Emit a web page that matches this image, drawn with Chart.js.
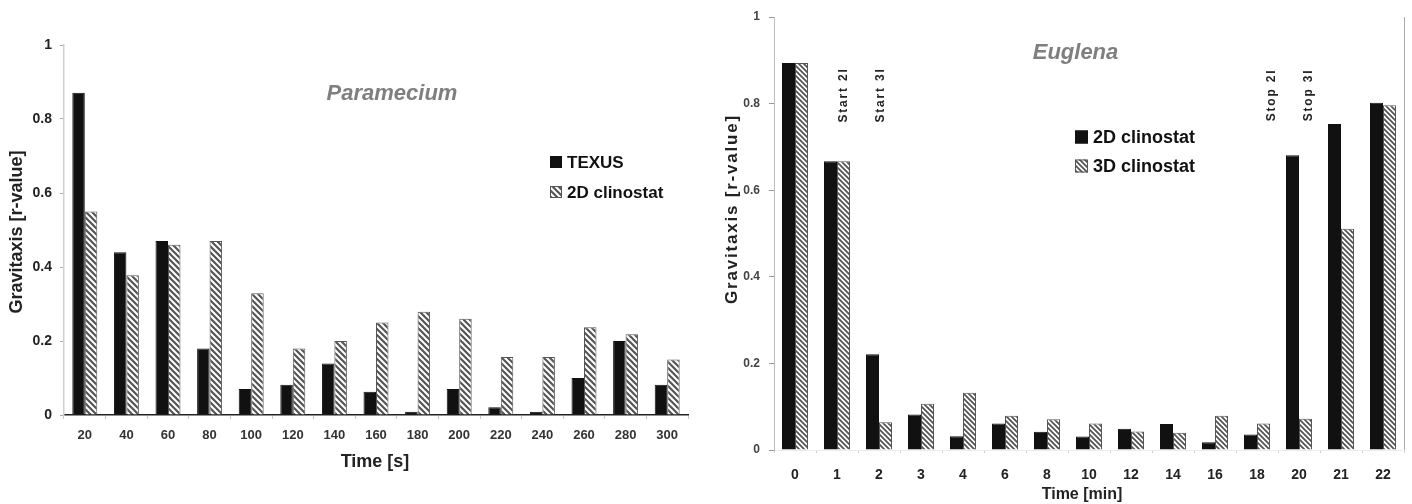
<!DOCTYPE html>
<html><head><meta charset="utf-8">
<script src="https://cdn.jsdelivr.net/npm/chart.js@4.4.1/dist/chart.umd.min.js"></script>
<style>
html,body{margin:0;padding:0;background:#fff;width:1412px;height:504px;overflow:hidden;}
#c1{position:absolute;left:0;top:0;}
#c2{position:absolute;left:700px;top:0;}
</style></head><body>
<canvas id="c1" width="700" height="504"></canvas>
<canvas id="c2" width="712" height="504"></canvas>
<script>
// ---- data ----
const parameciumTimes = ['20','40','60','80','100','120','140','160','180','200','220','240','260','280','300'];
const texusValues = [0.871,0.44,0.47,0.18,0.07,0.082,0.139,0.063,0.009,0.07,0.021,0.009,0.10,0.20,0.082];
const clino2DParamecium = [0.55,0.378,0.46,0.47,0.329,0.18,0.20,0.25,0.279,0.26,0.157,0.157,0.237,0.218,0.15];

const euglenaTimes = ['0','1','2','3','4','6','8','10','12','14','16','18','20','21','22'];
const clino2DEuglena = [0.894,0.667,0.221,0.082,0.032,0.061,0.042,0.031,0.049,0.06,0.018,0.036,0.681,0.753,0.802];
const clino3DEuglena = [0.894,0.667,0.064,0.107,0.132,0.079,0.071,0.061,0.043,0.04,0.079,0.061,0.072,0.511,0.796];

const yTickValues = [0,0.2,0.4,0.6,0.8,1];
const eventLabels = ['Start 2I','Start 3I','Stop 2I','Stop 3I'];
const eventIndex = [1.16,2.04,11.35,12.23];
const eventLevel = 0.82;

const FONT = '"Liberation Sans", Arial, sans-serif';

function hatch(ctx, size, lw, color) {
  const c = document.createElement('canvas'); c.width = size; c.height = size;
  const g = c.getContext('2d');
  g.fillStyle = '#fff'; g.fillRect(0,0,size,size);
  g.strokeStyle = color; g.lineWidth = lw;
  g.beginPath();
  g.moveTo(-1,-1); g.lineTo(size+1,size+1);
  g.moveTo(-1,size-1); g.lineTo(1,size+1);
  g.moveTo(size-1,-1); g.lineTo(size+1,1);
  g.stroke();
  return ctx.createPattern(c,'repeat');
}

const decor = {
  id: 'decor',
  afterDraw(chart, args, o) {
    const ctx = chart.ctx;
    const ca = chart.chartArea;
    ctx.save();
    if (o.rightBorder) {
      ctx.strokeStyle = o.rightBorder; ctx.lineWidth = 1;
      ctx.beginPath(); ctx.moveTo(ca.right+0.5, ca.top); ctx.lineTo(ca.right+0.5, ca.bottom); ctx.stroke();
    }
    (o.texts || []).forEach(t => {
      ctx.save();
      ctx.font = t.font; ctx.fillStyle = t.color || '#222';
      ctx.textAlign = t.align || 'center'; ctx.textBaseline = 'middle';
      ctx.letterSpacing = t.spacing || '0px';
      ctx.translate(t.x, t.y); if (t.rot) ctx.rotate(t.rot);
      ctx.fillText(t.text, 0, 0);
      ctx.restore();
    });
    if (o.legend) {
      const L = o.legend;
      chart.data.datasets.forEach((ds, i) => {
        const cy = L.y[i];
        ctx.fillStyle = ds.backgroundColor;
        ctx.fillRect(L.x, cy - L.box/2, L.box, L.box);
        ctx.strokeStyle = ds.borderColor; ctx.lineWidth = 1;
        ctx.strokeRect(L.x+0.5, cy - L.box/2 + 0.5, L.box-1, L.box-1);
        ctx.font = L.font; ctx.fillStyle = '#111'; ctx.textAlign = 'left'; ctx.textBaseline = 'middle';
        ctx.fillText(ds.label, L.x + L.box + L.gap, cy + 1);
      });
    }
    if (o.events) {
      const xs = chart.scales.x, ys = chart.scales.y;
      eventLabels.forEach((lab, i) => {
        ctx.save();
        ctx.font = o.events.font; ctx.fillStyle = '#222';
        ctx.textAlign = 'center'; ctx.textBaseline = 'middle';
        ctx.letterSpacing = o.events.spacing;
        ctx.translate(xs.getPixelForValue(eventIndex[i]), ys.getPixelForValue(eventLevel));
        ctx.rotate(-Math.PI/2);
        ctx.fillText(lab, 0, 0);
        ctx.restore();
      });
    }
    ctx.restore();
  }
};

function yLabel(v) { return v === 0 ? '0' : (v === 1 ? '1' : v.toFixed(1)); }

// ---- left chart: Paramecium ----
const ctx1 = document.getElementById('c1').getContext('2d');
new Chart(ctx1, {
  type: 'bar',
  data: {
    labels: parameciumTimes,
    datasets: [
      { label: 'TEXUS', data: texusValues, backgroundColor: '#111', borderColor: '#111', borderWidth: 1 },
      { label: '2D clinostat', data: clino2DParamecium, backgroundColor: hatch(ctx1, 6, 2.2, '#555'), borderColor: '#555', borderWidth: 1 }
    ]
  },
  options: {
    responsive: false, animation: false, devicePixelRatio: 1,
    layout: { padding: { top: 45, right: 12, left: 0, bottom: 0 } },
    datasets: { bar: { categoryPercentage: 0.6, barPercentage: 1.0 } },
    plugins: {
      legend: { display: false }, tooltip: { enabled: false },
      decor: {
        texts: [
          { text: 'Paramecium', x: 392, y: 94, font: 'italic bold 22px ' + FONT, color: '#7f7f7f' },
          { text: 'Gravitaxis [r-value]', x: 17, y: 232, rot: -Math.PI/2, font: 'bold 18px ' + FONT, color: '#222' },
          { text: 'Time [s]', x: 375, y: 462, font: 'bold 18px ' + FONT, color: '#222' }
        ],
        legend: { x: 550, y: [162, 192], box: 12, gap: 5, font: 'bold 17px ' + FONT }
      }
    },
    scales: {
      x: {
        afterFit: s => { s.height = 89; },
        grid: { drawOnChartArea: false, drawTicks: true, tickLength: 4, color: '#c8c8c8', offset: true },
        border: { color: '#222', width: 1.5 },
        ticks: { autoSkip: false, maxRotation: 0, padding: 9, color: '#333', font: { family: FONT, size: 13, weight: 'bold' } }
      },
      y: {
        min: 0, max: 1,
        afterFit: s => { s.width = 64; },
        afterBuildTicks: s => { s.ticks = yTickValues.map(v => ({ value: v })); },
        grid: { drawOnChartArea: false, drawTicks: true, tickLength: 4, color: '#aaa' },
        border: { color: '#cfcfcf', width: 1.5 },
        ticks: { padding: 8, color: '#222', font: { family: FONT, size: 14, weight: 'bold' }, callback: v => yLabel(v) }
      }
    }
  },
  plugins: [decor]
});

// ---- right chart: Euglena ----
const ctx2 = document.getElementById('c2').getContext('2d');
new Chart(ctx2, {
  type: 'bar',
  data: {
    labels: euglenaTimes,
    datasets: [
      { label: '2D clinostat', data: clino2DEuglena, backgroundColor: '#111', borderColor: '#111', borderWidth: 1 },
      { label: '3D clinostat', data: clino3DEuglena, backgroundColor: hatch(ctx2, 5, 1.8, '#555'), borderColor: '#555', borderWidth: 1 }
    ]
  },
  options: {
    responsive: false, animation: false, devicePixelRatio: 1,
    layout: { padding: { top: 17, right: 8, left: 0, bottom: 0 } },
    datasets: { bar: { categoryPercentage: 0.62, barPercentage: 1.0 } },
    plugins: {
      legend: { display: false }, tooltip: { enabled: false },
      decor: {
        rightBorder: '#aaa',
        texts: [
          { text: 'Euglena', x: 375.5, y: 53, font: 'italic bold 22px ' + FONT, color: '#7f7f7f' },
          { text: 'Gravitaxis [r-value]', x: 32, y: 209, rot: -Math.PI/2, font: 'bold 17px ' + FONT, color: '#222', spacing: '1.8px' },
          { text: 'Time [min]', x: 382, y: 495, font: 'bold 16px ' + FONT, color: '#222' }
        ],
        legend: { x: 375, y: [137, 166], box: 13, gap: 5, font: 'bold 18px ' + FONT },
        events: { font: 'bold 12px ' + FONT, spacing: '1.8px' }
      }
    },
    scales: {
      x: {
        afterFit: s => { s.height = 54; },
        grid: { drawOnChartArea: false, drawTicks: true, tickLength: 3, color: '#d0d0d0', offset: true },
        border: { color: '#ececec', width: 1 },
        ticks: { autoSkip: false, maxRotation: 0, padding: 14, color: '#222', font: { family: FONT, size: 14, weight: 'bold' } }
      },
      y: {
        min: 0, max: 1,
        afterFit: s => { s.width = 74; },
        afterBuildTicks: s => { s.ticks = yTickValues.map(v => ({ value: v })); },
        grid: { drawOnChartArea: false, drawTicks: true, tickLength: 5, color: '#999' },
        border: { color: '#bdbdbd', width: 1 },
        ticks: { padding: 9, color: '#444', font: { family: FONT, size: 12, weight: 'bold' }, callback: v => yLabel(v) }
      }
    }
  },
  plugins: [decor]
});
</script>
</body></html>
